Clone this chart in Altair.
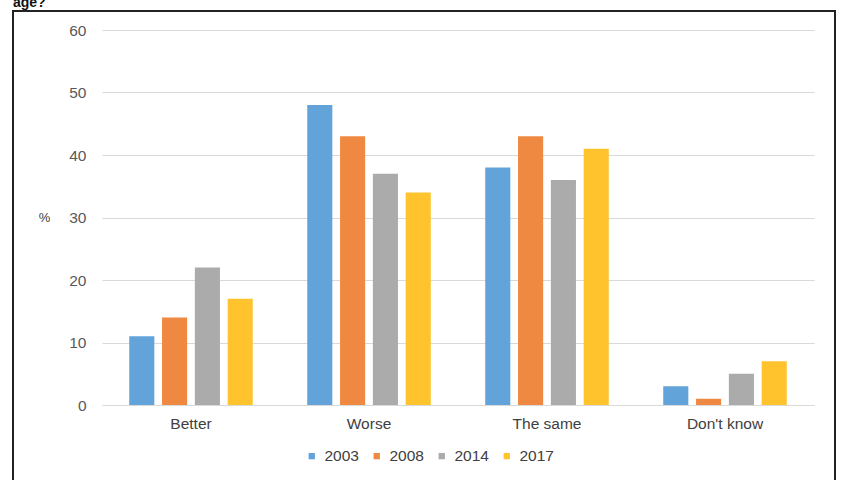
import altair as alt
import pandas as pd

categories = ["Better", "Worse", "The same", "Don't know"]
years = ["2003", "2008", "2014", "2017"]
v2003 = [11, 48, 38, 3]
v2008 = [14, 43, 43, 1]
v2014 = [22, 37, 36, 5]
v2017 = [17, 34, 41, 7]
colors = ["#62A3DA", "#EF8841", "#ABABAB", "#FFC32E"]

rows = []
for yr, vals in zip(years, [v2003, v2008, v2014, v2017]):
    for c, v in zip(categories, vals):
        rows.append({"answer": c, "year": yr, "pct": v})
df = pd.DataFrame(rows)

FONT = "Liberation Sans"

bars = alt.Chart(df).mark_bar().encode(
    x=alt.X("answer:N", sort=categories,
            scale=alt.Scale(paddingInner=0, paddingOuter=0),
            axis=alt.Axis(title=None, labelAngle=0, ticks=False, domainColor="#d9d9d9",
                          domainWidth=1, labelPadding=11, labelFontSize=15.5,
                          labelColor="#404040", labelFont=FONT, grid=False)),
    xOffset=alt.XOffset("year:N", sort=years,
                        scale=alt.Scale(paddingInner=0.235, paddingOuter=0.83)),
    y=alt.Y("pct:Q", scale=alt.Scale(domain=[0, 60]),
            axis=alt.Axis(values=[0, 10, 20, 30, 40, 50, 60], title="%", titleAngle=0,
                          titleX=-58, titleY=187, titleBaseline="middle", titleAlign="center",
                          titleFontSize=13, titleFontWeight="normal", titleColor="#404040",
                          titleFont=FONT, ticks=False, domain=False, labelPadding=16,
                          labelFontSize=15.5, labelColor="#595959", labelFont=FONT,
                          gridColor="#d9d9d9", gridWidth=1)),
    color=alt.Color("year:N", sort=years, scale=alt.Scale(domain=years, range=colors),
                    legend=alt.Legend(title=None, orient="none", direction="horizontal",
                                      legendX=202, legendY=418, symbolType="square",
                                      symbolSize=40, symbolStrokeWidth=0,
                                      labelFontSize=15.5, labelColor="#404040", labelFont=FONT,
                                      labelOffset=5, columnPadding=10)),
)

border = alt.Chart(pd.DataFrame({"a": [0]})).mark_rect(
    fill=None, stroke="#222222", strokeWidth=2
).encode(x=alt.value(-89), x2=alt.value(733), y=alt.value(-19), y2=alt.value(470))

title = alt.Chart(pd.DataFrame({"t": ["age?"]})).mark_text(
    align="left", baseline="alphabetic", fontSize=14, fontWeight="bold",
    font=FONT, color="#111111"
).encode(x=alt.value(-89), y=alt.value(-23), text="t:N")

chart = alt.layer(bars, border, title).properties(
    width=712, height=375,
    autosize=alt.AutoSizeParams(type="none"),
    padding={"left": 102, "top": 30, "right": 27, "bottom": 75},
    background="white",
).configure_view(stroke=None)

chart.save("out.html", embed_options={"renderer": "svg", "actions": False})
